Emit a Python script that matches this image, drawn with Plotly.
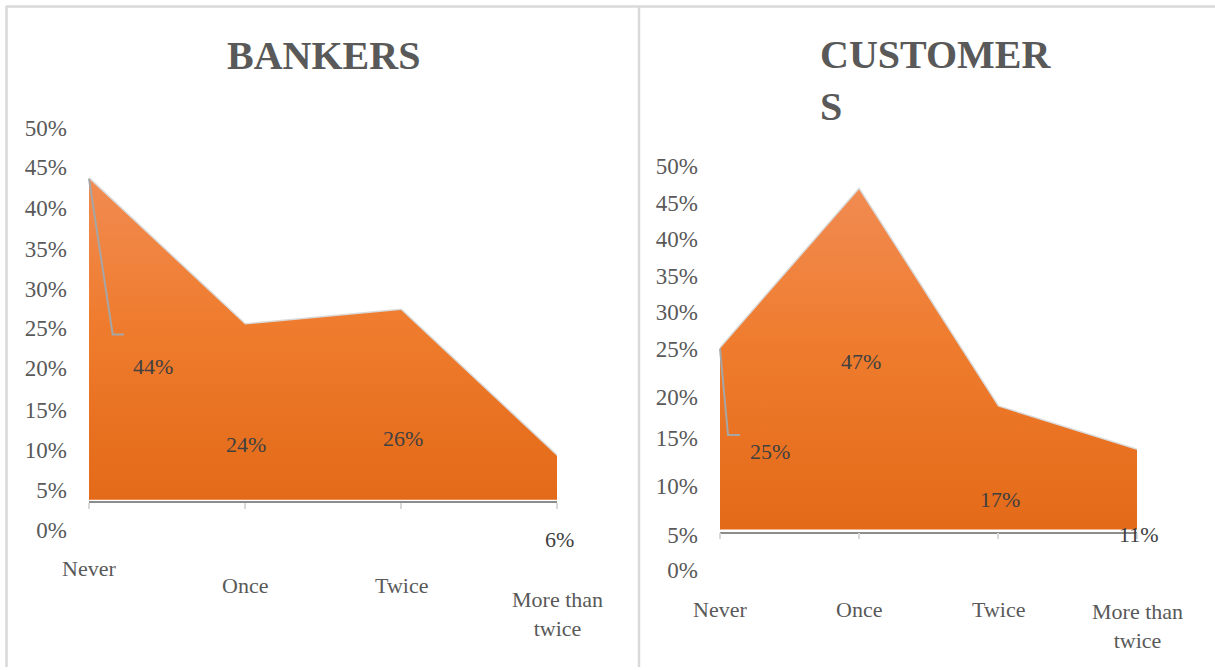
import textwrap
import plotly.graph_objects as go

W, H = 1215, 670

# ---- data -------------------------------------------------------------
categories = ["Never", "Once", "Twice", "More than twice"]
bankers = [0.44, 0.24, 0.26, 0.06]
customers = [0.25, 0.47, 0.17, 0.11]
tick_labels = ["0%", "5%", "10%", "15%", "20%", "25%", "30%", "35%", "40%", "45%", "50%"]

# where each y tick label sits, in axis units
bank_tick_pos = [-0.042, 0.014, 0.068, 0.123, 0.180, 0.235, 0.289, 0.344, 0.400, 0.456, 0.510]
cust_tick_pos = [-0.056, -0.007, 0.061, 0.127, 0.184, 0.250, 0.301, 0.351, 0.402, 0.451, 0.502]

# ---- panel geometry (pixels) -----------------------------------------
panels = [
    dict(name="BANKERS", values=bankers, ticks=bank_tick_pos,
         x0=89, x1=557, base=502, k=733, rng=(-0.06, 0.53), axis_y=504.5,
         xlab_y=[572, 590, 590, 604], lab_px=[(153, 368), (246, 447), (403, 440), (559, 542)],
         leader=[(112.7, 336), (124, 336)]),
    dict(name="CUSTOMERS", values=customers, ticks=cust_tick_pos,
         x0=720, x1=1137, base=532, k=727, rng=(-0.07, 0.53), axis_y=535,
         xlab_y=[614, 614, 614, 616], lab_px=[(770, 454), (861, 363), (1000, 502), (1139, 537)],
         leader=[(728, 437), (740, 437)]),
]

FONT = "Liberation Serif"
GREY_TXT = "#595959"
DARK_TXT = "#404040"


def px_x(px):
    return px / W


def px_y(py):
    return 1 - py / H


fig = go.Figure()
annotations = []
shapes = []
layout = {}

for i, p in enumerate(panels):
    sfx = "" if i == 0 else str(i + 1)
    xa, ya = "x" + sfx, "y" + sfx
    r0, r1 = p["rng"]
    top_px = p["base"] - p["k"] * r1
    bot_px = p["base"] - p["k"] * r0

    layout["xaxis" + sfx] = dict(
        domain=[px_x(p["x0"]), px_x(p["x1"])], type="category",
        categoryorder="array", categoryarray=categories, range=[0, len(categories) - 1],
        anchor="free", position=px_y(p["axis_y"]),
        showline=True, linecolor="#8c8c8c", linewidth=1.5,
        ticks="outside", ticklen=6, tickwidth=2, tickcolor="#d9d9d9",
        showticklabels=False, showgrid=False, zeroline=False, fixedrange=True,
    )
    layout["yaxis" + sfx] = dict(
        domain=[px_y(bot_px), px_y(top_px)], range=[r0, r1], anchor=xa,
        tickmode="array", tickvals=p["ticks"], ticktext=tick_labels,
        ticks="", ticklabelstandoff=21, showgrid=False, zeroline=False, showline=False,
        tickfont=dict(family=FONT, size=23, color=GREY_TXT), fixedrange=True,
    )

    vals = p["values"]
    # soft grey edge around the area
    fig.add_trace(go.Scatter(
        x=[categories[0]] + categories + [categories[-1]],
        y=[0] + vals + [0],
        mode="lines", line=dict(color="#dadada", width=3),
        xaxis=xa, yaxis=ya, hoverinfo="skip", showlegend=False,
    ))
    # orange area with a vertical gradient
    fig.add_trace(go.Scatter(
        x=categories, y=vals, mode="lines", fill="tozeroy",
        line=dict(width=0, color="rgba(0,0,0,0)"),
        fillgradient=dict(type="vertical",
                          colorscale=[[0, "#E36A18"], [0.55, "#EF7C2E"], [1, "#F18B52"]]),
        xaxis=xa, yaxis=ya, hoverinfo="skip", showlegend=False,
    ))

    # category labels under the axis
    for j, cat in enumerate(categories):
        text = "<br>".join(textwrap.wrap(cat, 10))
        annotations.append(dict(
            x=cat, xref=xa, y=px_y(p["xlab_y"][j] - 16), yref="paper",
            text=text, showarrow=False, xanchor="center", yanchor="top",
            font=dict(family=FONT, size=22, color=GREY_TXT),
        ))

    # value labels
    for j, v in enumerate(vals):
        lx, ly = p["lab_px"][j]
        annotations.append(dict(
            x=px_x(lx), xref="paper", y=px_y(ly), yref="paper",
            text=f"{v:.0%}", showarrow=False, xanchor="center", yanchor="middle",
            font=dict(family=FONT, size=22, color=DARK_TXT),
        ))

    # leader line from the first point to its label
    sx, sy = p["x0"], p["base"] - p["k"] * vals[0]
    pts = [(sx, sy)] + p["leader"]
    path = "M " + " L ".join(f"{px_x(a)},{px_y(b)}" for a, b in pts)
    shapes.append(dict(type="path", path=path, xref="paper", yref="paper",
                       line=dict(color="#a6a6a6", width=2)))

# titles
annotations.append(dict(
    x=px_x(323), y=px_y(56), xref="paper", yref="paper", text="<b>BANKERS</b>",
    showarrow=False, xanchor="center", yanchor="middle",
    font=dict(family=FONT, size=40, color=GREY_TXT),
))
annotations.append(dict(
    x=px_x(818), y=px_y(30), xref="paper", yref="paper", text="<b>CUSTOMER<br>S</b>",
    showarrow=False, xanchor="left", yanchor="top", align="left",
    font=dict(family=FONT, size=40, color=GREY_TXT),
))

# chart frames
frame = dict(color="#d9d9d9", width=2.5)
shapes += [
    dict(type="line", xref="paper", yref="paper", x0=px_x(6), x1=1, y0=px_y(6.5), y1=px_y(6.5), line=frame),
    dict(type="line", xref="paper", yref="paper", x0=px_x(6.5), x1=px_x(6.5), y0=px_y(6), y1=0, line=frame),
    dict(type="line", xref="paper", yref="paper", x0=px_x(639), x1=px_x(639), y0=px_y(6), y1=0, line=frame),
]

fig.update_layout(
    width=W, height=H, margin=dict(l=0, r=0, t=0, b=0),
    paper_bgcolor="white", plot_bgcolor="rgba(0,0,0,0)",
    annotations=annotations, shapes=shapes, showlegend=False,
    **layout,
)

fig.write_html("out.html", config={"displayModeBar": False})
